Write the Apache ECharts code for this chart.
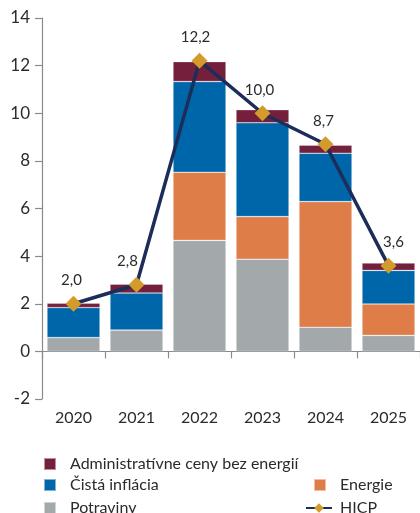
<!DOCTYPE html>
<html>
<head>
<meta charset="utf-8">
<script src="https://cdn.jsdelivr.net/npm/echarts@6/dist/echarts.min.js"></script>
<style>
  html, body { margin: 0; padding: 0; background: #fff; }
  #chart { width: 420px; height: 513px; }
</style>
</head>
<body>
<div id="chart"></div>
<script>
// Values
const years = ['2020', '2021', '2022', '2023', '2024', '2025'];
const potraviny = [0.58, 0.90, 4.66, 3.87, 1.01, 0.67];
const energie = [0, 0, 2.86, 1.79, 5.28, 1.32];
const cistaInflacia = [1.26, 1.55, 3.81, 3.94, 2.03, 1.41];
const administrativne = [0.18, 0.37, 0.84, 0.55, 0.34, 0.31];
const hicp = [2.0, 2.8, 12.2, 10.0, 8.7, 3.6];
const yTicks = [-2, 0, 2, 4, 6, 8, 10, 12, 14];

// label nudges so the numbers sit as in the source
const labelDx = [-2, -9, -4, -3, -2, 5];

const FONT = 'Lato';
const TEXT = '#2b2b2b';
const AXIS = '#8a8a8a';

const chart = echarts.init( document.getElementById( 'chart' ) );

const barSeries = ( name, data, color ) => ( {
  name: name,
  type: 'bar',
  stack: 'total',
  xAxisIndex: 0,
  barWidth: 53,
  data: data,
  itemStyle: { color: color, borderColor: 'rgba(255,255,255,0.5)', borderWidth: 0.6 },
  emphasis: { disabled: true }
} );

// one legend block per entry, placed like the source
const legendItem = ( name, left, top, isLine ) => ( {
  left: left,
  top: top,
  itemWidth: isLine ? 26 : 12,
  itemHeight: 12,
  icon: isLine ? undefined : 'rect',
  selectedMode: false,
  textStyle: { color: TEXT, fontSize: 16, fontFamily: FONT, padding: [0, 0, 0, isLine ? 3 : 9] },
  data: [name]
} );

const option = {
  animation: false,
  textStyle: { fontFamily: FONT },
  grid: { left: 42, top: 18, width: 382, height: 381 },
  xAxis: [
    {
      type: 'category',
      data: years,
      position: 'bottom',
      axisLine: { show: false, onZero: false },
      axisTick: { show: false },
      axisLabel: { color: TEXT, fontSize: 16, margin: 11, fontFamily: FONT }
    },
    {
      type: 'category',
      data: years,
      position: 'bottom',
      axisLine: { onZero: true, lineStyle: { color: AXIS, width: 1.2 } },
      axisTick: { show: true, length: 7, lineStyle: { color: AXIS, width: 1.2 } },
      axisLabel: { show: false }
    }
  ],
  yAxis: {
    type: 'value',
    min: yTicks[0],
    max: yTicks[yTicks.length - 1],
    interval: 2,
    axisLine: { show: true, lineStyle: { color: AXIS, width: 1.2 } },
    axisTick: { show: true, length: 7, lineStyle: { color: AXIS, width: 1.2 } },
    splitLine: { show: false },
    axisLabel: { color: TEXT, fontSize: 17, margin: 12, fontFamily: FONT }
  },
  legend: [
    legendItem( 'Administratívne ceny bez energií', 38, 451, false ),
    legendItem( 'Čistá inflácia', 38, 472, false ),
    legendItem( 'Potraviny', 38, 495, false ),
    legendItem( 'Energie', 308, 472, false ),
    legendItem( 'HICP', 300, 495, true )
  ],
  series: [
    barSeries( 'Potraviny', potraviny, '#a3a9ab' ),
    barSeries( 'Energie', energie, '#df7d48' ),
    barSeries( 'Čistá inflácia', cistaInflacia, '#0066aa' ),
    barSeries( 'Administratívne ceny bez energií', administrativne, '#74203c' ),
    {
      name: 'HICP',
      type: 'line',
      xAxisIndex: 0,
      data: hicp.map( ( v, i ) => ( { value: v, label: { offset: [labelDx[i], 0] } } ) ),
      symbol: 'diamond',
      symbolSize: 16,
      lineStyle: { color: '#1c2d59', width: 3.5 },
      itemStyle: { color: '#d29b2c' },
      label: {
        show: true,
        position: 'top',
        distance: 8,
        color: TEXT,
        fontSize: 15,
        fontFamily: FONT,
        formatter: ( p ) => p.value.toFixed( 1 ).replace( '.', ',' )
      },
      z: 5,
      emphasis: { disabled: true }
    }
  ]
};

chart.setOption( option );
</script>
</body>
</html>
